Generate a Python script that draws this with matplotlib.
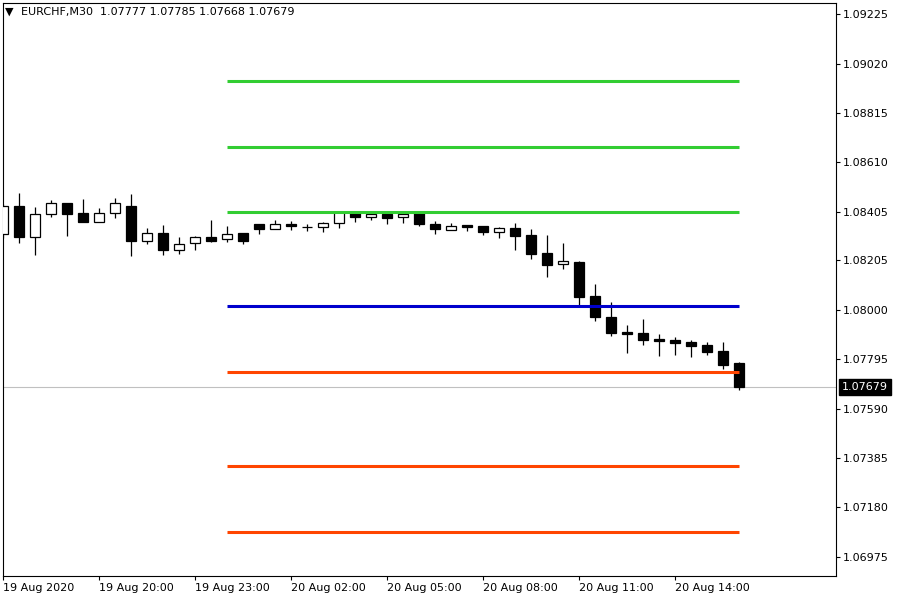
import numpy as np
import matplotlib
matplotlib.use("Agg")
import matplotlib.pyplot as plt
from matplotlib.transforms import blended_transform_factory

# EURCHF M30, 19 Aug 17:00 .. 20 Aug 16:00
opens = [1.08313, 1.08429, 1.08301, 1.08396, 1.08442, 1.08400, 1.08363, 1.08400, 1.08429, 1.08284,
         1.08318, 1.08247, 1.08276, 1.08301, 1.08293, 1.08318, 1.08355, 1.08334, 1.08355, 1.08342,
         1.08342, 1.08359, 1.08405, 1.08384, 1.08396, 1.08384, 1.08400, 1.08355, 1.08330, 1.08351,
         1.08347, 1.08322, 1.08338, 1.08309, 1.08235, 1.08189, 1.08197, 1.08057, 1.07970, 1.07907,
         1.07903, 1.07878, 1.07874, 1.07866, 1.07853, 1.07829, 1.07777]
highs = [1.08438, 1.08483, 1.08425, 1.08454, 1.08442, 1.08458, 1.08421, 1.08463, 1.08479, 1.08338,
         1.08351, 1.08301, 1.08305, 1.08371, 1.08347, 1.08318, 1.08355, 1.08371, 1.08367, 1.08355,
         1.08363, 1.08405, 1.08409, 1.08409, 1.08396, 1.08409, 1.08405, 1.08367, 1.08359, 1.08351,
         1.08347, 1.08342, 1.08359, 1.08334, 1.08309, 1.08276, 1.08202, 1.08106, 1.08032, 1.07936,
         1.07961, 1.07899, 1.07887, 1.07874, 1.07866, 1.07866, 1.07785]
lows = [1.08297, 1.08276, 1.08226, 1.08384, 1.08305, 1.08363, 1.08363, 1.08380, 1.08222, 1.08272,
        1.08226, 1.08231, 1.08247, 1.08280, 1.08280, 1.08272, 1.08313, 1.08334, 1.08330, 1.08326,
        1.08322, 1.08338, 1.08363, 1.08371, 1.08355, 1.08359, 1.08347, 1.08313, 1.08330, 1.08326,
        1.08309, 1.08297, 1.08247, 1.08210, 1.08135, 1.08168, 1.08011, 1.07953, 1.07891, 1.07820,
        1.07853, 1.07808, 1.07812, 1.07804, 1.07812, 1.07754, 1.07668]
closes = [1.08429, 1.08301, 1.08396, 1.08442, 1.08396, 1.08363, 1.08400, 1.08442, 1.08284, 1.08318,
          1.08247, 1.08272, 1.08301, 1.08284, 1.08313, 1.08284, 1.08334, 1.08355, 1.08347, 1.08341,
          1.08359, 1.08405, 1.08384, 1.08396, 1.08380, 1.08396, 1.08355, 1.08334, 1.08347, 1.08342,
          1.08322, 1.08338, 1.08305, 1.08231, 1.08185, 1.08202, 1.08052, 1.07970, 1.07903, 1.07899,
          1.07874, 1.07870, 1.07862, 1.07849, 1.07824, 1.07771, 1.07679]

# pivot levels
green_levels = [1.08947, 1.08674, 1.08405]
blue_levels = [1.08015]
red_levels = [1.07742, 1.07352, 1.07079]
level_start = 14
level_end = 46

current = 1.07679

y_ticks = [1.09225, 1.09020, 1.08815, 1.08610, 1.08405, 1.08205, 1.08000,
           1.07795, 1.07590, 1.07385, 1.07180, 1.06975]
x_tick_pos = [0, 6, 12, 18, 24, 30, 36, 42]
x_tick_labels = ["19 Aug 2020", "19 Aug 20:00", "19 Aug 23:00", "20 Aug 02:00",
                 "20 Aug 05:00", "20 Aug 08:00", "20 Aug 11:00", "20 Aug 14:00"]

plt.rcParams['font.family'] = ['DejaVu Sans']

fig = plt.figure(figsize=(9, 6), dpi=100)
ax = fig.add_axes([3/900, 1 - 576/600, 833/900, 573/600])

n = len(opens)
x = np.arange(n)
o = np.array(opens)
c = np.array(closes)

ax.axhline(current, color='#c0c0c0', lw=0.8, zorder=1)

ax.vlines(x, lows, highs, color='black', lw=0.9, zorder=2)
bottoms = np.minimum(o, c)
heights = np.maximum(np.abs(c - o), 0.000005)
faces = ['black' if cc < oo else 'white' for oo, cc in zip(o, c)]
ax.bar(x, heights, bottom=bottoms, width=0.62, color=faces, edgecolor='black', linewidth=0.9, zorder=3)

ax.hlines(green_levels, level_start, level_end, color='#32cd32', lw=2.2, zorder=4)
ax.hlines(blue_levels, level_start, level_end, color='#0000cd', lw=2.2, zorder=4)
ax.hlines(red_levels, level_start, level_end, color='#ff4500', lw=2.2, zorder=4)

ax.set_xlim(0, 833/16)
ax.set_ylim(1.06896, 1.09271)

ax.yaxis.tick_right()
ax.set_yticks(y_ticks)
ax.set_yticklabels(["%.5f" % v for v in y_ticks])
ax.set_xticks(x_tick_pos)
ax.set_xticklabels(x_tick_labels, ha='left')
ax.tick_params(axis='both', direction='out', length=3, width=0.8, labelsize=8, colors='black')
ax.tick_params(axis='x', pad=2)
ax.tick_params(axis='y', pad=2)
for s in ax.spines.values():
    s.set_linewidth(0.8)
    s.set_color('black')

# current price tag
tr = blended_transform_factory(ax.transAxes, ax.transData)
ax.text(1 + 6/833, current, "%.5f" % current, transform=tr, color='white', fontsize=8,
        va='center', ha='left', clip_on=False,
        bbox=dict(boxstyle='square,pad=0.3', fc='black', ec='black'))

# header
fig.text(5/900, 1 - 12/600, "\u25bc", fontsize=8, va='center', ha='left')
fig.text(21/900, 1 - 12/600, "EURCHF,M30  1.07777 1.07785 1.07668 1.07679",
         fontsize=8, va='center', ha='left')

fig.savefig("out.png", dpi=100)
